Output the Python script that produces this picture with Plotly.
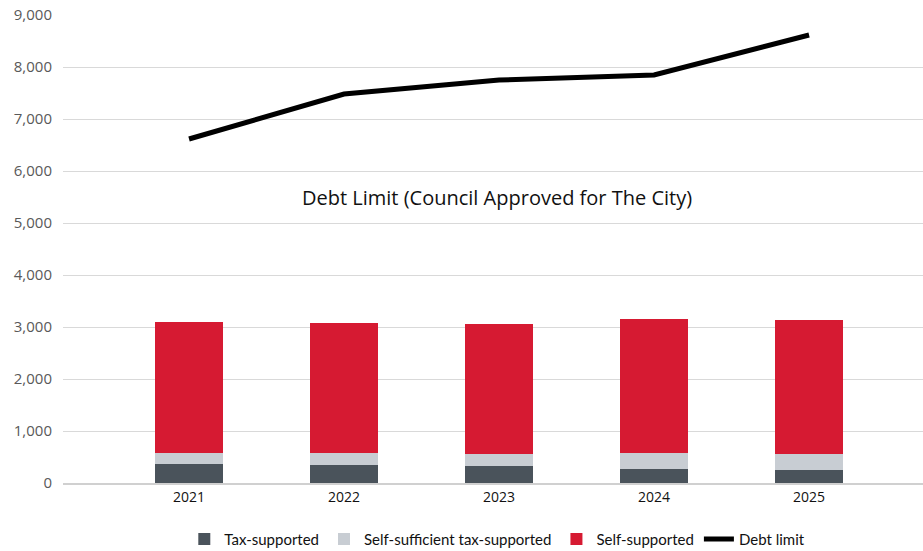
import plotly.graph_objects as go

years = ["2021", "2022", "2023", "2024", "2025"]
tax_supported = [365, 346, 327, 269, 250]
self_sufficient = [212, 231, 231, 308, 308]
self_supported = [2519, 2500, 2500, 2577, 2577]
debt_limit = [6615, 7481, 7750, 7846, 8615]
y_ticks = [0, 1000, 2000, 3000, 4000, 5000, 6000, 7000, 8000, 9000]
y_tick_labels = ["0", "1,000", "2,000", "3,000", "4,000", "5,000", "6,000", "7,000", "8,000", "9,000"]

font_family = "Open Sans, Lato, sans-serif"
legend_family = "Lato, Open Sans, sans-serif"

fig = go.Figure()
fig.add_trace(go.Bar(x=years, y=tax_supported, name="Tax-supported",
                     marker=dict(color="#4a535b", line=dict(width=0)), width=0.44))
fig.add_trace(go.Bar(x=years, y=self_sufficient, name="Self-sufficient tax-supported",
                     marker=dict(color="#c8cdd3", line=dict(width=0)), width=0.44))
fig.add_trace(go.Bar(x=years, y=self_supported, name="Self-supported",
                     marker=dict(color="#d61a32", line=dict(width=0)), width=0.44))
fig.add_trace(go.Scatter(x=years, y=debt_limit, name="Debt limit", mode="lines",
                         line=dict(color="#000000", width=5)))

fig.add_annotation(x=0.505, xref="paper", y=5500, yref="y",
                   text="Debt Limit (Council Approved for The City)",
                   showarrow=False, font=dict(family=font_family, size=20, color="#111111"))

fig.update_layout(
    width=923, height=551,
    barmode="stack",
    plot_bgcolor="white", paper_bgcolor="white",
    margin=dict(l=63, r=0, t=15, b=68, autoexpand=False),
    font=dict(family=font_family, color="#111111"),
    showlegend=True,
    legend=dict(orientation="h", x=0.505, xanchor="center", y=-0.12, yanchor="middle",
                font=dict(family=legend_family, size=15, color="#111111"), traceorder="normal",
                itemwidth=30),
    xaxis=dict(type="category", range=[-0.813, 4.735], showgrid=False,
               showline=True, linecolor="#d0d0d0", linewidth=2,
               ticks="", tickfont=dict(size=14, color="#111111")),
    yaxis=dict(range=[0, 9000], tickvals=y_ticks, ticktext=y_tick_labels,
               showgrid=True, gridcolor="#d9d9d9", gridwidth=1, zeroline=False,
               ticks="", ticklabelstandoff=10,
               tickfont=dict(size=15, color="#595959")),
)

fig.write_html("out.html")
